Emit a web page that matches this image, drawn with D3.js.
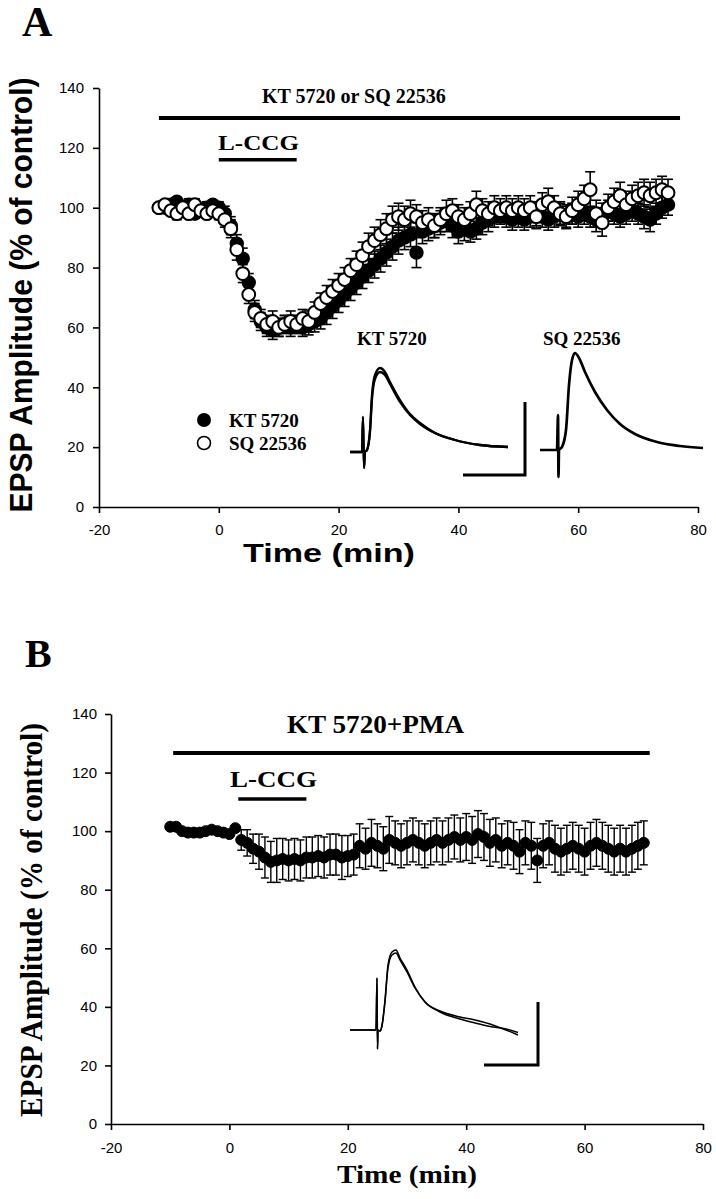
<!DOCTYPE html>
<html>
<head>
<meta charset="utf-8">
<script src="https://cdn.jsdelivr.net/npm/d3@7/dist/d3.min.js"></script>
<style>
  body { margin: 0; background: #fff; }
  .tick text { font-family: 'Liberation Sans', Arial, sans-serif; font-size: 15px; fill: #000; }
  .tick line, .domain { stroke: #000; stroke-width: 1.6px; }
</style>
</head>
<body>
<svg width="716" height="1199"></svg>
<script>
  // ---- panel A: EPSP amplitude (% of control), one point per minute from -10 to 75
  const timeA = d3.range(-10, 76);
  const kt5720 = [
    100, 100, 101, 102, 99, 101, 98, 99, 100, 101,
    100, 98, 94, 88, 83, 75, 66, 62, 60, 59,
    60, 61, 60, 61, 60, 61, 62, 63, 65, 67,
    69, 71, 73, 75, 77, 79, 81, 83, 85, 87,
    89, 90, 91, 85, 92, 93, 94, 95, 96, 94,
    92, 93, 92, 93, 95, 96, 97, 98, 97, 96,
    97, 96, 97, 98, 97, 96, 97, 98, 97, 98,
    97, 98, 97, 96, 98, 99, 98, 97, 98, 99,
    98, 97, 96, 98, 100, 101
  ];
  const kt5720Sem = [
    1.5, 1.5, 2, 1.5, 1.5, 2, 1.5, 1.5, 2, 1.5,
    2, 2.5, 3, 3, 3.5, 3, 3, 3, 3, 3,
    3, 3, 3, 3, 3, 3.5, 3.5, 3.5, 4, 4,
    4, 4, 4, 4, 4, 4, 4.5, 4.5, 4.5, 4.5,
    4.5, 4, 4, 5, 4, 4, 4, 4, 4, 4,
    4, 4, 3.5, 3.5, 4, 4, 3.5, 3.5, 3.5, 3.5,
    3.5, 3.5, 3.5, 4, 3.5, 3.5, 3.5, 3.5, 3.5, 3.5,
    3.5, 3.5, 3.5, 4, 3.5, 3.5, 3.5, 3.5, 3.5, 3.5,
    3.5, 4, 4, 3.5, 3.5, 3.5
  ];
  const sq22536 = [
    100, 101, 99, 98, 100, 98, 101, 99, 98, 99,
    98, 96, 93, 86, 78, 71, 65, 63, 61, 62,
    60, 61, 62, 61, 63, 62, 65, 68, 70, 72,
    74, 76, 79, 81, 84, 87, 89, 91, 93, 96,
    97, 96, 98, 97, 95, 96, 94, 96, 98, 99,
    97, 96, 98, 101, 99, 98, 100, 99, 100, 99,
    100, 99, 100, 97, 101, 102, 100, 98, 97, 99,
    101, 103, 106, 98, 95, 100, 102, 104, 101, 103,
    104, 105, 104, 105, 106, 105
  ];
  const sq22536Sem = [
    1.5, 1.5, 1.5, 2, 1.5, 1.5, 2, 1.5, 1.5, 2,
    2, 2.5, 3, 3.5, 3, 3, 3, 3, 3, 3.5,
    3, 3, 3.5, 3, 3, 3.5, 3.5, 3.5, 4, 4,
    4, 4, 4, 4.5, 4.5, 4.5, 4.5, 5, 5, 4.5,
    4.5, 4.5, 4.5, 4, 4, 4, 4, 4, 4.5, 4,
    4, 4, 4, 4.5, 4, 4, 4, 4, 4, 4,
    4, 4, 4, 4, 4, 4.5, 4, 4, 4, 4.5,
    4.5, 4.5, 6, 4.5, 4.5, 4.5, 4.5, 4.5, 4.5, 4.5,
    4.5, 4.5, 4.5, 4.5, 4.5, 4.5
  ];

  // ---- panel B: KT 5720 + PMA, one point per minute from -10 to 70
  const timeB = d3.range(-10, 71);
  const ktPma = [
    101.5, 101.5, 100, 99.5, 99.5, 99.5, 100, 100.5, 100, 99.5,
    99, 101, 97, 96, 94, 93, 91, 89.5, 90, 90.5,
    90, 90.5, 90, 91, 91, 91.5, 91, 92, 92, 91,
    91.5, 92, 95, 94, 96, 95, 94, 97, 96, 95,
    96, 97, 96, 95, 96, 97, 96, 97, 98, 97,
    98, 97, 99, 98, 96, 97, 95, 96, 95, 93,
    96, 95, 90, 95, 96, 94, 93, 94, 95, 94,
    93, 95, 96, 95, 94, 93, 94, 93, 94, 95,
    96
  ];
  const ktPmaSem = [
    0.5, 0.5, 0.5, 0.5, 0.5, 0.5, 0.5, 0.5, 0.5, 0.5,
    0.5, 0.5, 3.5, 4.5, 5, 6, 7, 7, 7.5, 7,
    7, 7, 7, 7, 7, 7, 7, 7, 7, 7.5,
    7, 7, 7.5, 7, 8, 7.5, 7.5, 8, 7.5, 7.5,
    7.5, 7.5, 7.5, 7.5, 7.5, 7.5, 7.5, 7.5, 7.5, 7.5,
    8, 8, 8, 8, 8, 7.5, 7.5, 7.5, 8, 7.5,
    7.5, 8, 7.5, 7.5, 7.5, 8, 8, 8, 8, 8,
    8, 8, 8, 8, 8, 8, 8, 8, 8, 8,
    7.5
  ];

  const yTicks = [0, 20, 40, 60, 80, 100, 120, 140];
  const xTicks = [-20, 0, 20, 40, 60, 80];

  // application bars: [start min, end min, level %]
  const drugBarA = [-10, 77, 130];
  const lccgBarA = [0, 13, 116];
  const drugBarB = [-9.5, 71, 126.7];
  const lccgBarB = [1.5, 13, 111];

  // sample EPSP traces: [ms, mV]
  const traceKtCtrl = [[0,0],[6,0],[6.5,3.5],[7,-1.6],[7.5,0],[8.5,0.2],[10,2.2],[11,5.7],[12.5,7.7],[15,8.4],[17.5,8.0],[20,7.0],[25,5.2],[30,3.8],[35,2.9],[42.5,1.9],[52.5,1.2],[65,0.7],[79,0.5]];
  const traceKtDrug = [[0,0],[6,0],[6.5,3.5],[7,-1.6],[7.5,0],[8.5,0.2],[10,2.0],[11,5.3],[12.5,7.3],[15,8.0],[17.5,7.7],[20,6.8],[25,5.0],[30,3.7],[35,2.8],[42.5,1.9],[52.5,1.2],[65,0.7],[79,0.5]];
  const traceSq = [[0,0],[8.5,0],[9,3.5],[9.25,-2.7],[9.5,0],[11,0.3],[13,2.0],[14.5,6.5],[16,9.0],[17.5,9.7],[19.5,9.2],[22.5,7.8],[27.5,5.8],[33.5,4.0],[40,2.6],[47.5,1.6],[58.5,0.8],[70,0.4],[81.5,0.2]];
  const scaleBarA = [[56.5,-2.3],[87.5,-2.3],[87.5,5.0]];
  const tracePmaCtrl = [[0,0],[13,0],[13.5,5.2],[13.75,-1.9],[14,0],[15,-0.1],[16,0.5],[17.5,3.0],[19,6.5],[21,7.8],[23,8.0],[25,7.2],[28.5,6.0],[32.5,4.3],[37.5,2.8],[45,1.8],[55,1.1],[62.5,0.7],[70,0.35],[78,0.1],[84,-0.25]];
  const tracePmaDrug = [[0,0],[13,0],[13.5,5.2],[13.75,-1.9],[14,0],[15,-0.1],[16,0.4],[17.5,2.8],[19,6.2],[21,7.5],[23,7.7],[25,7.0],[28.5,5.8],[32.5,4.2],[37.5,2.8],[45,1.9],[55,1.3],[62.5,1.0],[70,0.6],[78,0.0],[84,-0.5]];
  const scaleBarB = [[67,-3.5],[94,-3.5],[94,2.8]];

  const serif = "'Liberation Serif', 'Times New Roman', serif";
  const sans = "'Liberation Sans', Arial, sans-serif";

  const svg = d3.select('svg');

  const addText = (x, y, str, font, size, opts = {}) => {
    const t = svg.append('text')
      .attr('x', x).attr('y', y)
      .attr('font-family', font)
      .attr('font-size', size)
      .attr('font-weight', 'bold')
      .attr('text-anchor', opts.anchor || 'start')
      .text(str);
    if (opts.len) t.attr('textLength', opts.len).attr('lengthAdjust', 'spacingAndGlyphs');
    if (opts.rotate) t.attr('transform', `rotate(-90, ${x}, ${y})`);
    return t;
  };

  // plain hyphen for negatives, as in the original
  const fmt = d => String(d);

  const drawAxes = (xScale, yScale, xPad, yPad) => {
    const [y0] = yScale.range();
    const [x0] = xScale.range();
    svg.append('g')
      .attr('transform', `translate(0, ${y0})`)
      .call(d3.axisBottom(xScale).tickValues(xTicks).tickFormat(fmt)
        .tickSize(6).tickPadding(xPad).tickSizeOuter(0));
    svg.append('g')
      .attr('transform', `translate(${x0}, 0)`)
      .call(d3.axisLeft(yScale).tickValues(yTicks).tickFormat(fmt)
        .tickSize(6).tickPadding(yPad).tickSizeOuter(0));
  };

  const drawBar = (xScale, yScale, bar, width) => {
    svg.append('line')
      .attr('x1', xScale(bar[0])).attr('x2', xScale(bar[1]))
      .attr('y1', yScale(bar[2])).attr('y2', yScale(bar[2]))
      .attr('stroke', '#000').attr('stroke-width', width);
  };

  const drawErrors = (g, times, values, sems, xScale, yScale, capW, sw) => {
    const rows = times.map((t, i) => ({ t, v: values[i], s: sems[i] }));
    const eg = g.append('g').attr('stroke', '#000').attr('stroke-width', sw);
    eg.selectAll('line.v').data(rows).enter().append('line')
      .attr('x1', d => xScale(d.t)).attr('x2', d => xScale(d.t))
      .attr('y1', d => yScale(d.v - d.s)).attr('y2', d => yScale(d.v + d.s));
    [-1, 1].forEach(sign => {
      eg.selectAll(null).data(rows).enter().append('line')
        .attr('x1', d => xScale(d.t) - capW / 2).attr('x2', d => xScale(d.t) + capW / 2)
        .attr('y1', d => yScale(d.v + sign * d.s)).attr('y2', d => yScale(d.v + sign * d.s));
    });
  };

  const drawPoints = (g, times, values, xScale, yScale, r, fill, sw) => {
    g.append('g').selectAll('circle').data(times.map((t, i) => [t, values[i]]))
      .enter().append('circle')
      .attr('cx', d => xScale(d[0]))
      .attr('cy', d => yScale(d[1]))
      .attr('r', r)
      .attr('fill', fill)
      .attr('stroke', '#000')
      .attr('stroke-width', sw);
  };

  const insetScales = (ox, oy) => [
    d3.scaleLinear().domain([0, 100]).range([ox, ox + 200]),
    d3.scaleLinear().domain([0, 10]).range([oy, oy - 100])
  ];

  const drawTrace = (ox, oy, data, width) => {
    const [tx, ty] = insetScales(ox, oy);
    svg.append('path')
      .datum(data)
      .attr('d', d3.line().x(d => tx(d[0])).y(d => ty(d[1])).curve(d3.curveMonotoneX))
      .attr('fill', 'none').attr('stroke', '#000').attr('stroke-width', width)
      .attr('stroke-linejoin', 'round');
  };

  const drawScaleBar = (ox, oy, data, width) => {
    const [tx, ty] = insetScales(ox, oy);
    svg.append('path')
      .datum(data)
      .attr('d', d3.line().x(d => tx(d[0])).y(d => ty(d[1])))
      .attr('fill', 'none').attr('stroke', '#000').attr('stroke-width', width);
  };

  // ================= Panel A =================
  const xA = d3.scaleLinear().domain([-20, 80]).range([99, 698]);
  const yA = d3.scaleLinear().domain([0, 140]).range([507, 88]);

  addText(22, 36, 'A', serif, 42);
  drawAxes(xA, yA, 11, 9);

  addText(32, 295, 'EPSP Amplitude (% of control)', sans, 31, { anchor: 'middle', rotate: true, len: 435 });
  addText(329, 562, 'Time (min)', sans, 25, { anchor: 'middle', len: 172 });

  addText(262, 103, 'KT 5720 or SQ 22536', serif, 20);
  drawBar(xA, yA, drugBarA, 4);
  addText(218, 150, 'L-CCG', serif, 21, { len: 81 });
  drawBar(xA, yA, lccgBarA, 3.5);

  const gA = svg.append('g');
  drawErrors(gA, timeA, kt5720, kt5720Sem, xA, yA, 10, 1.6);
  drawErrors(gA, timeA, sq22536, sq22536Sem, xA, yA, 10, 1.6);
  drawPoints(gA, timeA, kt5720, xA, yA, 6.4, '#000', 1.6);
  drawPoints(gA, timeA, sq22536, xA, yA, 6.4, '#fff', 2);

  // legend
  svg.append('circle').attr('cx', 204).attr('cy', 420).attr('r', 7).attr('fill', '#000');
  svg.append('circle').attr('cx', 204).attr('cy', 443).attr('r', 6.5)
    .attr('fill', '#fff').attr('stroke', '#000').attr('stroke-width', 1.6);
  addText(229, 427, 'KT 5720', serif, 19);
  addText(229, 450, 'SQ 22536', serif, 19);

  // sample traces
  addText(357, 345, 'KT 5720', serif, 19);
  addText(543, 345, 'SQ 22536', serif, 19);
  drawTrace(350, 452, traceKtCtrl, 2.3);
  drawTrace(350, 452, traceKtDrug, 2.3);
  drawScaleBar(350, 452, scaleBarA, 3);
  drawTrace(540, 450, traceSq, 2.7);

  // ================= Panel B =================
  const xB = d3.scaleLinear().domain([-20, 80]).range([111, 703]);
  const yB = d3.scaleLinear().domain([0, 140]).range([1124, 714]);

  addText(25, 667, 'B', serif, 40);
  drawAxes(xB, yB, 12, 8);

  addText(42, 920, 'EPSP Amplitude (% of control)', serif, 31, { anchor: 'middle', rotate: true, len: 394 });
  addText(407, 1183, 'Time (min)', serif, 26, { anchor: 'middle', len: 140 });

  addText(287, 733, 'KT 5720+PMA', serif, 26, { len: 177 });
  drawBar(xB, yB, drugBarB, 4);
  addText(230, 787, 'L-CCG', serif, 24, { len: 87 });
  drawBar(xB, yB, lccgBarB, 3.5);

  const gB = svg.append('g');
  drawErrors(gB, timeB, ktPma, ktPmaSem, xB, yB, 8, 1.4);
  drawPoints(gB, timeB, ktPma, xB, yB, 5.5, '#000', 1);

  drawTrace(350, 1030, tracePmaCtrl, 1.5);
  drawTrace(350, 1030, tracePmaDrug, 1.5);
  drawScaleBar(350, 1030, scaleBarB, 3);
</script>
</body>
</html>
